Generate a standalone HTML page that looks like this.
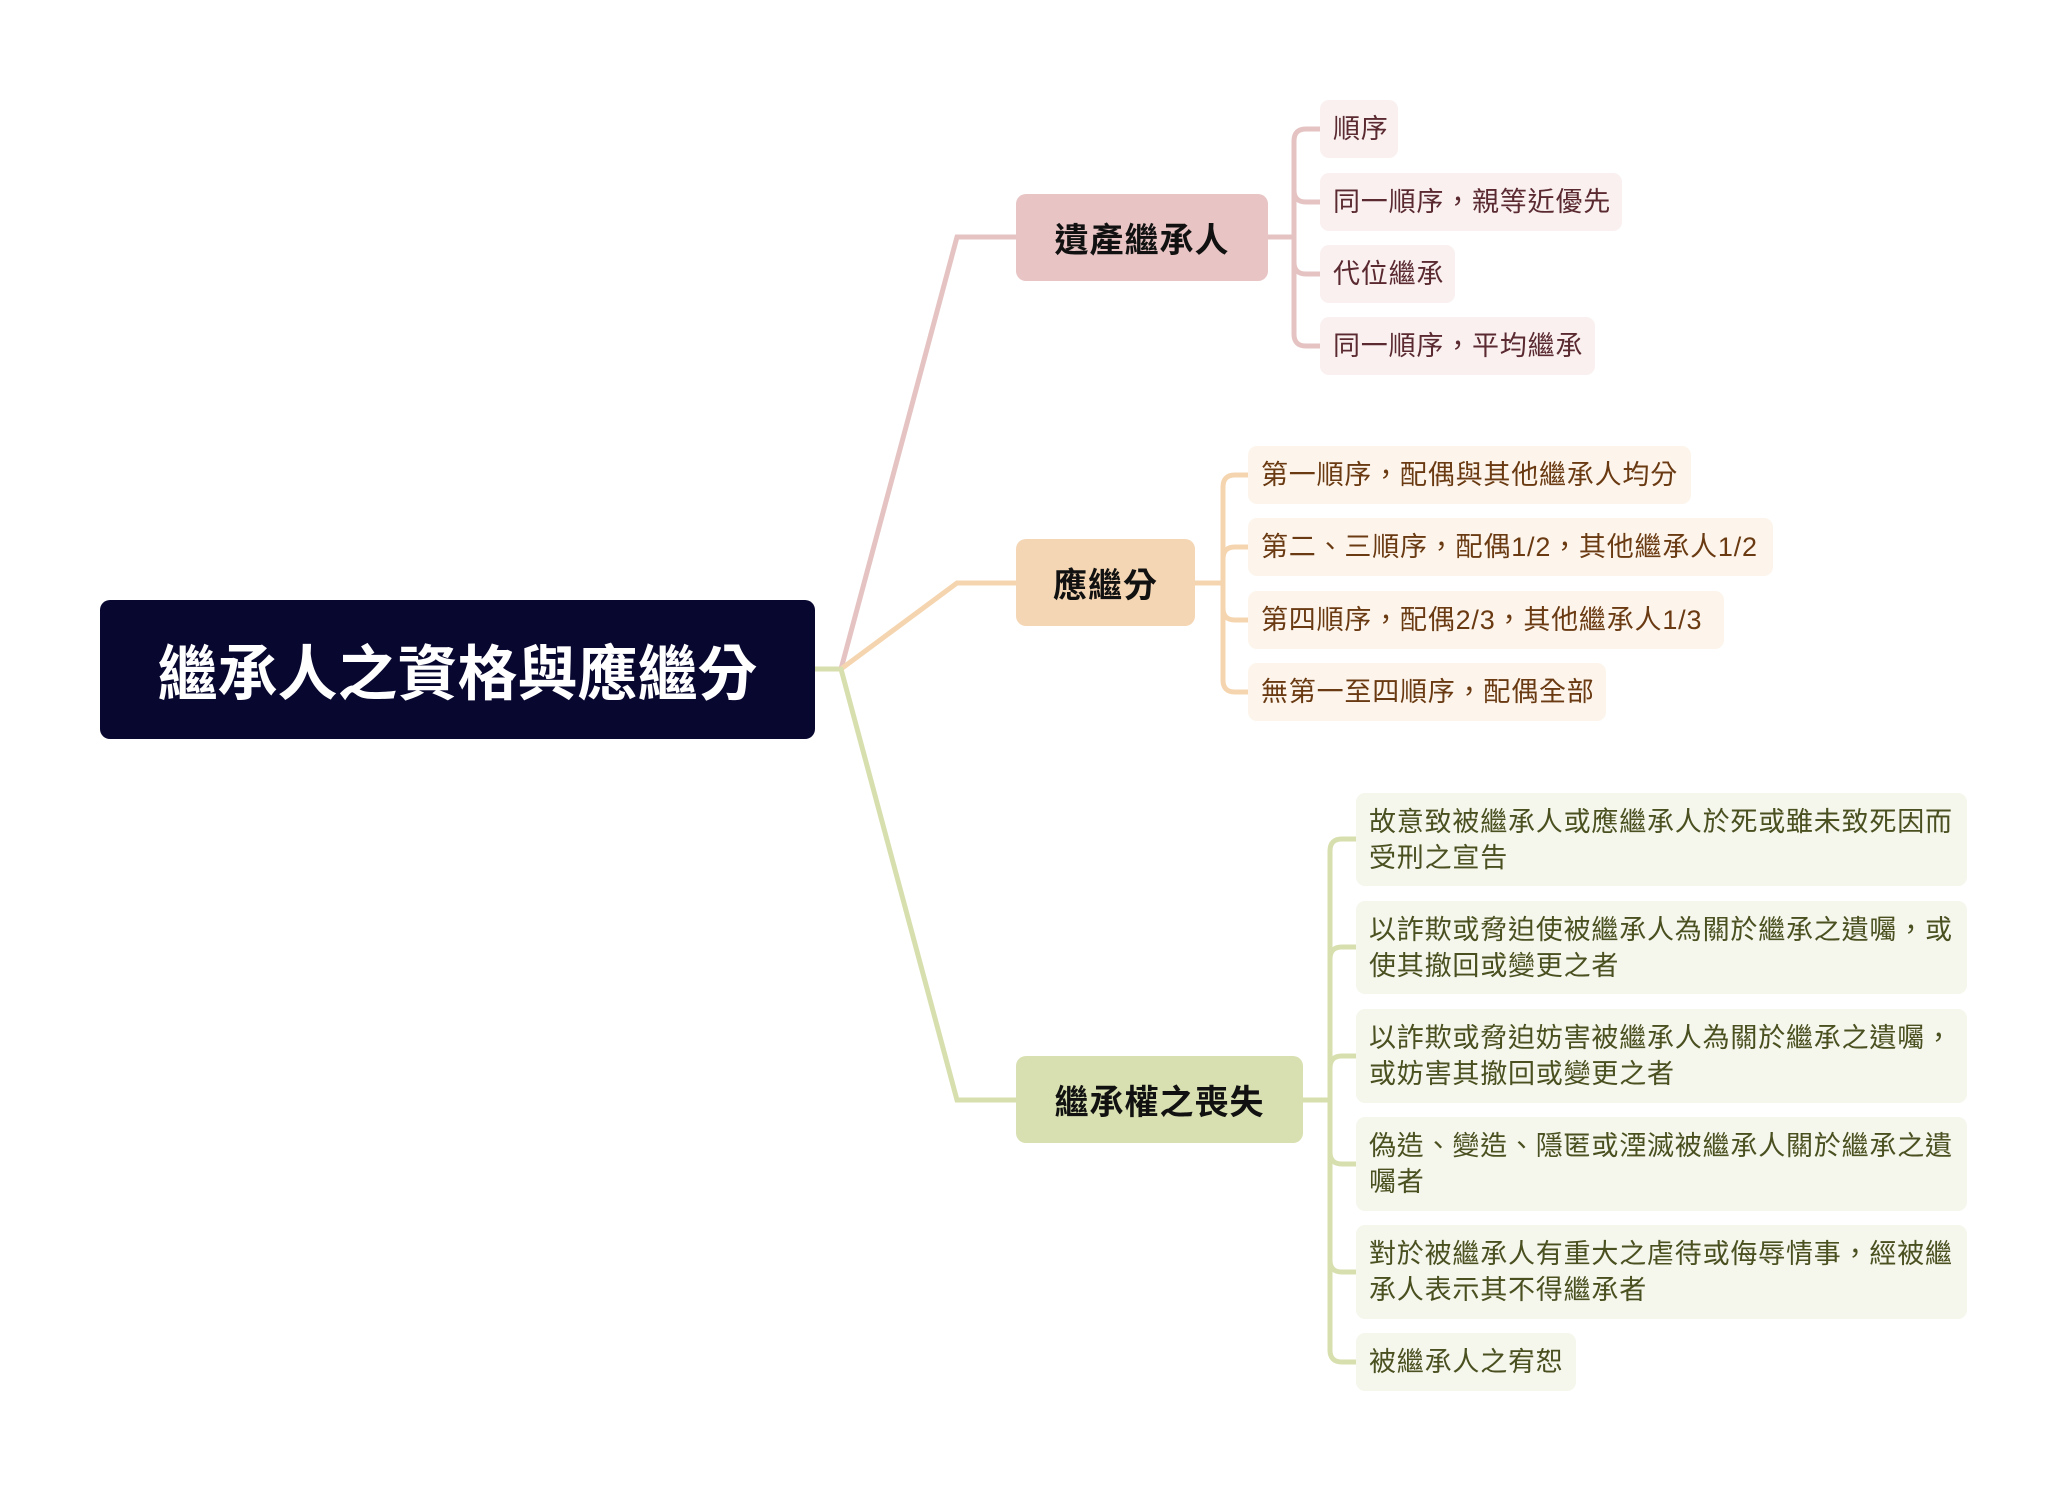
<!DOCTYPE html>
<html><head><meta charset="utf-8"><style>
html,body{margin:0;padding:0;background:#fff;}
body{width:2068px;height:1492px;position:relative;overflow:hidden;font-family:"Liberation Sans","Noto Sans CJK TC",sans-serif;}
.n{position:absolute;box-sizing:border-box;display:flex;align-items:center;white-space:nowrap;}
.root{left:100px;top:600px;width:715px;height:139px;background:#070730;border-radius:10px;color:#fff;font-weight:bold;font-size:60px;justify-content:center;}
.b{height:87px;border-radius:10px;font-weight:bold;font-size:34px;color:#111;justify-content:center;letter-spacing:1px;}
.l{border-radius:9px;font-size:27px;letter-spacing:0.8px;padding:0 0 0 13px;line-height:36px;}
.g1{background:#faf0f0;color:#5a2a30;}
.g2{background:#fdf5ec;color:#6a3a12;}
.g3{background:#f5f6ec;color:#4a5020;}
</style></head><body>
<svg width="2068" height="1492" style="position:absolute;left:0;top:0" fill="none" stroke-width="5" stroke-linecap="round">
<path d="M815 669 L841 669" stroke="#d8dfae"/>
<path d="M841 669 L957 237 L1016 237" stroke="#e5c3c3"/>
<path d="M841 669 L957 583 L1016 583" stroke="#f5d5b0"/>
<path d="M841 669 L957 1100 L1016 1100" stroke="#d8dfae"/>
<g stroke="#e5c3c3">
<path d="M1268 237 L1294 237"/>
<path d="M1294 141 L1294 334"/>
<path d="M1294 141 Q1294 129 1306 129 L1320 129"/>
<path d="M1294 190 Q1294 202 1306 202 L1320 202"/>
<path d="M1294 262 Q1294 274 1306 274 L1320 274"/>
<path d="M1294 334 Q1294 346 1306 346 L1320 346"/>
</g>
<g stroke="#f5d5b0">
<path d="M1195 583 L1223 583"/>
<path d="M1223 487 L1223 680"/>
<path d="M1223 487 Q1223 475 1235 475 L1248 475"/>
<path d="M1223 559 Q1223 547 1235 547 L1248 547"/>
<path d="M1223 608 Q1223 620 1235 620 L1248 620"/>
<path d="M1223 680 Q1223 692 1235 692 L1248 692"/>
</g>
<g stroke="#d8dfae">
<path d="M1303 1100 L1330 1100"/>
<path d="M1330 851 L1330 1350"/>
<path d="M1330 851 Q1330 839 1342 839 L1356 839"/>
<path d="M1330 959 Q1330 947 1342 947 L1356 947"/>
<path d="M1330 1068 Q1330 1056 1342 1056 L1356 1056"/>
<path d="M1330 1152 Q1330 1164 1342 1164 L1356 1164"/>
<path d="M1330 1260 Q1330 1272 1342 1272 L1356 1272"/>
<path d="M1330 1350 Q1330 1362 1342 1362 L1356 1362"/>
</g>
</svg>
<div class="n root">繼承人之資格與應繼分</div>
<div class="n b" style="left:1016px;top:194px;width:252px;background:#e8c4c4">遺產繼承人</div>
<div class="n b" style="left:1016px;top:539px;width:179px;background:#f4d6b4">應繼分</div>
<div class="n b" style="left:1016px;top:1056px;width:287px;background:#d8dfb0">繼承權之喪失</div>

<div class="n l g1" style="left:1320px;top:100px;width:78px;height:58px">順序</div>
<div class="n l g1" style="left:1320px;top:173px;width:302px;height:58px">同一順序，親等近優先</div>
<div class="n l g1" style="left:1320px;top:245px;width:135px;height:58px">代位繼承</div>
<div class="n l g1" style="left:1320px;top:317px;width:275px;height:58px">同一順序，平均繼承</div>

<div class="n l g2" style="left:1248px;top:446px;width:443px;height:58px">第一順序，配偶與其他繼承人均分</div>
<div class="n l g2" style="left:1248px;top:518px;width:525px;height:58px">第二、三順序，配偶1/2，其他繼承人1/2</div>
<div class="n l g2" style="left:1248px;top:591px;width:476px;height:58px">第四順序，配偶2/3，其他繼承人1/3</div>
<div class="n l g2" style="left:1248px;top:663px;width:358px;height:58px">無第一至四順序，配偶全部</div>

<div class="n l g3" style="left:1356px;top:793px;width:611px;height:93px">故意致被繼承人或應繼承人於死或雖未致死因而<br>受刑之宣告</div>
<div class="n l g3" style="left:1356px;top:901px;width:611px;height:93px">以詐欺或脅迫使被繼承人為關於繼承之遺囑，或<br>使其撤回或變更之者</div>
<div class="n l g3" style="left:1356px;top:1009px;width:611px;height:94px">以詐欺或脅迫妨害被繼承人為關於繼承之遺囑，<br>或妨害其撤回或變更之者</div>
<div class="n l g3" style="left:1356px;top:1117px;width:611px;height:94px">偽造、變造、隱匿或湮滅被繼承人關於繼承之遺<br>囑者</div>
<div class="n l g3" style="left:1356px;top:1225px;width:611px;height:94px">對於被繼承人有重大之虐待或侮辱情事，經被繼<br>承人表示其不得繼承者</div>
<div class="n l g3" style="left:1356px;top:1333px;width:220px;height:58px">被繼承人之宥恕</div>
</body></html>
